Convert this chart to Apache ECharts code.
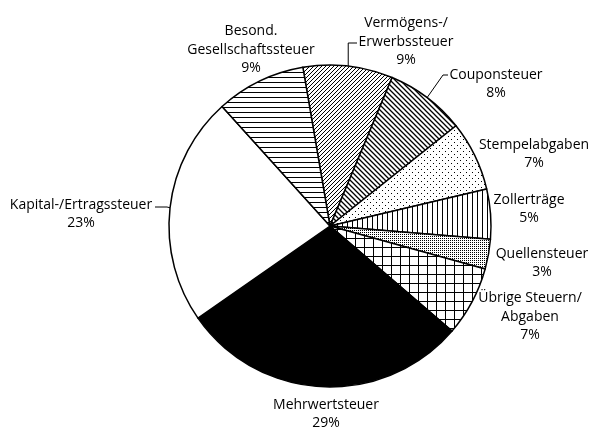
<!DOCTYPE html>
<html>
<head>
<meta charset="utf-8">
<style>
  html, body { margin: 0; padding: 0; background: #fff; }
  #main { width: 593px; height: 429px; }
</style>
<script src="https://cdn.jsdelivr.net/npm/echarts@6/dist/echarts.min.js"></script>
</head>
<body>
<div id="main"></div>
<script>
// Steuerarten, im Uhrzeigersinn ab ca. 12 Uhr
var categories = ['Vermögens-/\nErwerbssteuer', 'Couponsteuer', 'Stempelabgaben', 'Zollerträge',
    'Quellensteuer', 'Übrige Steuern/\nAbgaben', 'Mehrwertsteuer', 'Kapital-/Ertragssteuer',
    'Besond.\nGesellschaftssteuer'];
var shares = [9, 8, 7, 5, 3, 7, 29, 23, 9];

// Lage der Beschriftungen (Textmitte) und welche eine Hinweislinie haben
var labelPos = [[406, 42], [496, 84], [534, 154], [529, 209], [542, 263],
    [530, 317], [326, 414], [81, 214], [251, 50]];
var withLine = [true, true, false, false, false, false, false, true, false];

function tile(size, draw) {
    var c = document.createElement('canvas');
    c.width = size; c.height = size;
    var ctx = c.getContext('2d');
    ctx.fillStyle = '#fff';
    ctx.fillRect(0, 0, size, size);
    ctx.strokeStyle = '#000';
    ctx.fillStyle = '#000';
    draw(ctx, size);
    return { image: c, repeat: 'repeat' };
}
function diagUp(w) {
    return function (ctx, s) {
        ctx.lineWidth = w;
        ctx.beginPath();
        ctx.moveTo(-1, s + 1); ctx.lineTo(s + 1, -1);
        ctx.moveTo(-1, 1); ctx.lineTo(1, -1);
        ctx.moveTo(s - 1, s + 1); ctx.lineTo(s + 1, s - 1);
        ctx.stroke();
    };
}
function diagDown(w) {
    return function (ctx, s) {
        ctx.lineWidth = w;
        ctx.beginPath();
        ctx.moveTo(-1, -1); ctx.lineTo(s + 1, s + 1);
        ctx.moveTo(s - 1, -1); ctx.lineTo(s + 1, 1);
        ctx.moveTo(-1, s - 1); ctx.lineTo(1, s + 1);
        ctx.stroke();
    };
}
var patterns = [
    tile(4, diagUp(1)),
    tile(5, diagDown(1.3)),
    tile(6, function (ctx) { ctx.fillRect(1, 1, 1, 1); ctx.fillRect(4, 4, 1, 1); }),
    tile(5, function (ctx) { ctx.fillRect(2, 0, 1, 5); }),
    tile(2, function (ctx) { ctx.fillRect(0, 0, 1, 1); }),
    tile(9, function (ctx) { ctx.fillRect(4, 0, 1, 9); ctx.fillRect(0, 4, 9, 1); }),
    '#000',
    '#fff',
    tile(5, function (ctx) { ctx.fillRect(0, 2, 5, 1); })
];

var chart = echarts.init(document.getElementById('main'), null, { renderer: 'canvas' });

var seriesData = categories.map(function (name, i) {
    return {
        name: name,
        value: shares[i],
        itemStyle: { color: patterns[i] },
        labelLine: { show: withLine[i] }
    };
});

chart.setOption({
    animation: false,
    backgroundColor: '#fff',
    series: [{
        type: 'pie',
        center: [330, 226],
        radius: [0, 161],
        startAngle: 99.7,
        clockwise: true,
        avoidLabelOverlap: false,
        itemStyle: { borderColor: '#000', borderWidth: 1.5 },
        label: {
            show: true,
            position: 'outside',
            formatter: '{b}\n{c}%',
            color: '#000',
            fontFamily: 'Open Sans',
            fontSize: 14,
            lineHeight: 18.5,
            align: 'center',
            verticalAlign: 'middle'
        },
        labelLine: {
            show: false,
            length: 8,
            length2: 8,
            lineStyle: { color: '#000', width: 1 }
        },
        labelLayout: function (p) {
            var i = p.dataIndex;
            var pos = labelPos[i];
            var out = { x: pos[0], y: pos[1], align: 'center', verticalAlign: 'middle' };
            if (withLine[i] && p.labelLinePoints) {
                var s = p.labelLinePoints[0];
                if (i === 0) out.labelLinePoints = [s, [s[0], 43], [357, 43]];
                if (i === 1) out.labelLinePoints = [s, [443, 75], [448, 75]];
                if (i === 7) out.labelLinePoints = [s, [167, 207], [155, 207]];
            }
            return out;
        },
        data: seriesData
    }]
});
</script>
</body>
</html>
